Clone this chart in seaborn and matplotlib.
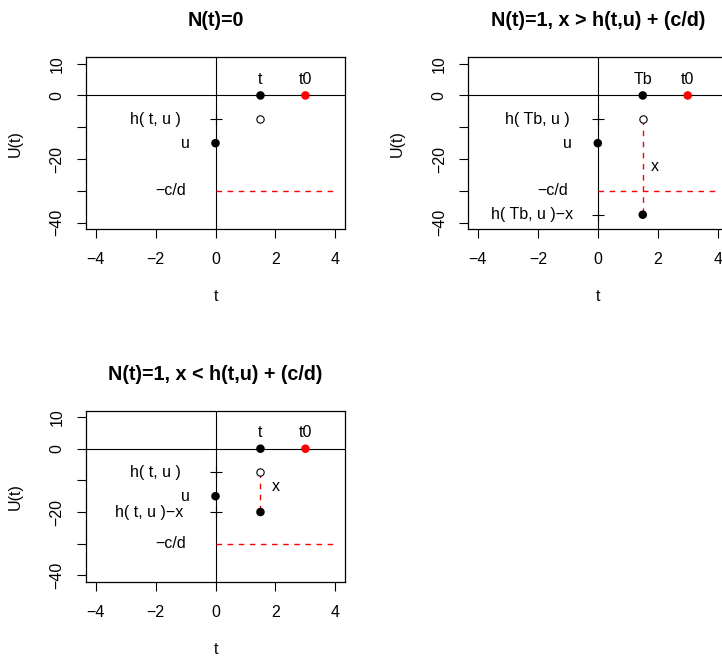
import matplotlib
matplotlib.use('Agg')
import matplotlib.pyplot as plt
import pandas as pd
import numpy as np
import seaborn as sns

# Panel titles
titles = ['N(t)=0', 'N(t)=1, x > h(t,u) + (c/d)', 'N(t)=1, x < h(t,u) + (c/d)']

# Axis ticks
x_ticks = [-4, -2, 0, 2, 4]
y_ticks = [10, 0, -10, -20, -30, -40]
y_tick_labels = ['10', '0', '', '\u221220', '', '\u221240']

# Filled points per panel (t, t0, u, and h-x after the jump)
filled_x = [[1.5, 3.0, 0.0], [1.5, 3.0, 0.0, 1.5], [1.5, 3.0, 0.0, 1.5]]
filled_y = [[0, 0, -15], [0, 0, -15, -37.5], [0, 0, -15, -20]]
filled_col = [['black', 'red', 'black'],
              ['black', 'red', 'black', 'black'],
              ['black', 'red', 'black', 'black']]

# Open circle h(t,u)
open_x = [1.5, 1.5, 1.5]
open_y = [-7.5, -7.5, -7.5]

# "+" marks on the U(t) axis
plus_y = [[-7.5], [-7.5, -37.5], [-7.5, -20]]

# -c/d level and claim jumps
cd_level = -30
jump_top = [None, -7.5, -7.5]
jump_bottom = [None, -37.5, -20]

# Text labels per panel
label_text = [['t', 't0', 'h( t, u )', 'u', '\u2212c/d'],
              ['Tb', 't0', 'h( Tb, u )', 'u', 'x', '\u2212c/d', 'h( Tb, u )\u2212x'],
              ['t', 't0', 'h( t, u )', 'u', 'x', 'h( t, u )\u2212x', '\u2212c/d']]
label_x = [[1.5, 3.0, -2.0, -1.0, -1.5],
           [1.5, 3.0, -2.0, -1.0, 1.9, -1.5, -2.2],
           [1.5, 3.0, -2.0, -1.0, 2.0, -2.2, -1.5]]
label_y = [[5, 5, -7.5, -15, -30],
           [5, 5, -7.5, -15, -22.5, -30, -37.5],
           [5, 5, -7.5, -15, -12, -20, -30]]

sns.set_style('white')
plt.rcParams['font.family'] = ['Liberation Sans', 'DejaVu Sans']
plt.rcParams['axes.unicode_minus'] = True
plt.rcParams['text.color'] = 'black'
plt.rcParams['axes.labelcolor'] = 'black'
plt.rcParams['xtick.color'] = 'black'
plt.rcParams['ytick.color'] = 'black'

W, H = 722, 659
fig = plt.figure(figsize=(W / 100, H / 100), dpi=100)

# axes boxes in pixels: left, top, right, bottom
boxes = [(86, 57.3, 345, 229), (468.3, 57.3, 727.3, 229), (86, 410.7, 345, 581.7)]
base_fs = 11.5

for i, (l, t, r, b) in enumerate(boxes):
    ax = fig.add_axes([l / W, (H - b) / H, (r - l) / W, (b - t) / H])
    ax.set_xlim(-4.32, 4.32)
    ax.set_ylim(-42, 12)
    for s in ax.spines.values():
        s.set_visible(True)
        s.set_color('black')
        s.set_linewidth(0.9)

    ax.axhline(0, color='black', lw=0.8, zorder=1)
    ax.axvline(0, color='black', lw=0.8, zorder=1)
    ax.plot([0, 4], [cd_level, cd_level], color='#ff0000', lw=1.0,
            linestyle=(0, (4, 4)), zorder=2)
    if jump_top[i] is not None:
        ax.plot([open_x[i], open_x[i]], [jump_top[i], jump_bottom[i]],
                color='#ff0000', lw=1.0, linestyle=(0, (4, 4)), zorder=2)

    pts = pd.DataFrame({'x': filled_x[i], 'y': filled_y[i], 'col': filled_col[i]})
    sns.scatterplot(data=pts, x='x', y='y', hue='col',
                    palette={'black': 'black', 'red': 'red'},
                    s=38, linewidth=0, legend=False, ax=ax, zorder=3)
    sns.scatterplot(x=[open_x[i]], y=[open_y[i]], s=28, marker='o',
                    facecolor='white', edgecolor='black', linewidth=0.8,
                    legend=False, ax=ax, zorder=3)
    sns.scatterplot(x=[0] * len(plus_y[i]), y=plus_y[i], marker='+', s=80,
                    color='black', linewidth=0.8, legend=False, ax=ax, zorder=3)

    for txt, lx, ly in zip(label_text[i], label_x[i], label_y[i]):
        ax.text(lx, ly, txt, ha='center', va='center', fontsize=base_fs)

    ax.set_xticks(x_ticks)
    ax.set_xticklabels([str(v).replace('-', '\u2212') for v in x_ticks])
    ax.set_yticks(y_ticks)
    ax.set_yticklabels(y_tick_labels, rotation=90, va='center')
    ax.tick_params(axis='both', direction='out', length=6.5, width=0.8,
                   labelsize=base_fs, color='black', labelcolor='black',
                   bottom=True, left=True)
    ax.tick_params(axis='x', pad=10)
    ax.tick_params(axis='y', pad=9)

    ax.set_xlabel('t', fontsize=base_fs)
    ax.xaxis.set_label_coords(0.5, -67.7 / (b - t))
    ax.xaxis.label.set_va('center')
    ax.set_ylabel('U(t)', fontsize=base_fs)
    ax.yaxis.set_label_coords(-71 / (r - l), 0.5)
    ax.yaxis.label.set_rotation_mode('default')
    ax.yaxis.label.set_va('center')
    ax.yaxis.label.set_ha('center')

    ax.text(0.5, 1 + 36.5 / (b - t), titles[i], transform=ax.transAxes,
            ha='center', va='center', fontsize=14.2, fontweight='bold')

fig.savefig('out.png', dpi=100)
